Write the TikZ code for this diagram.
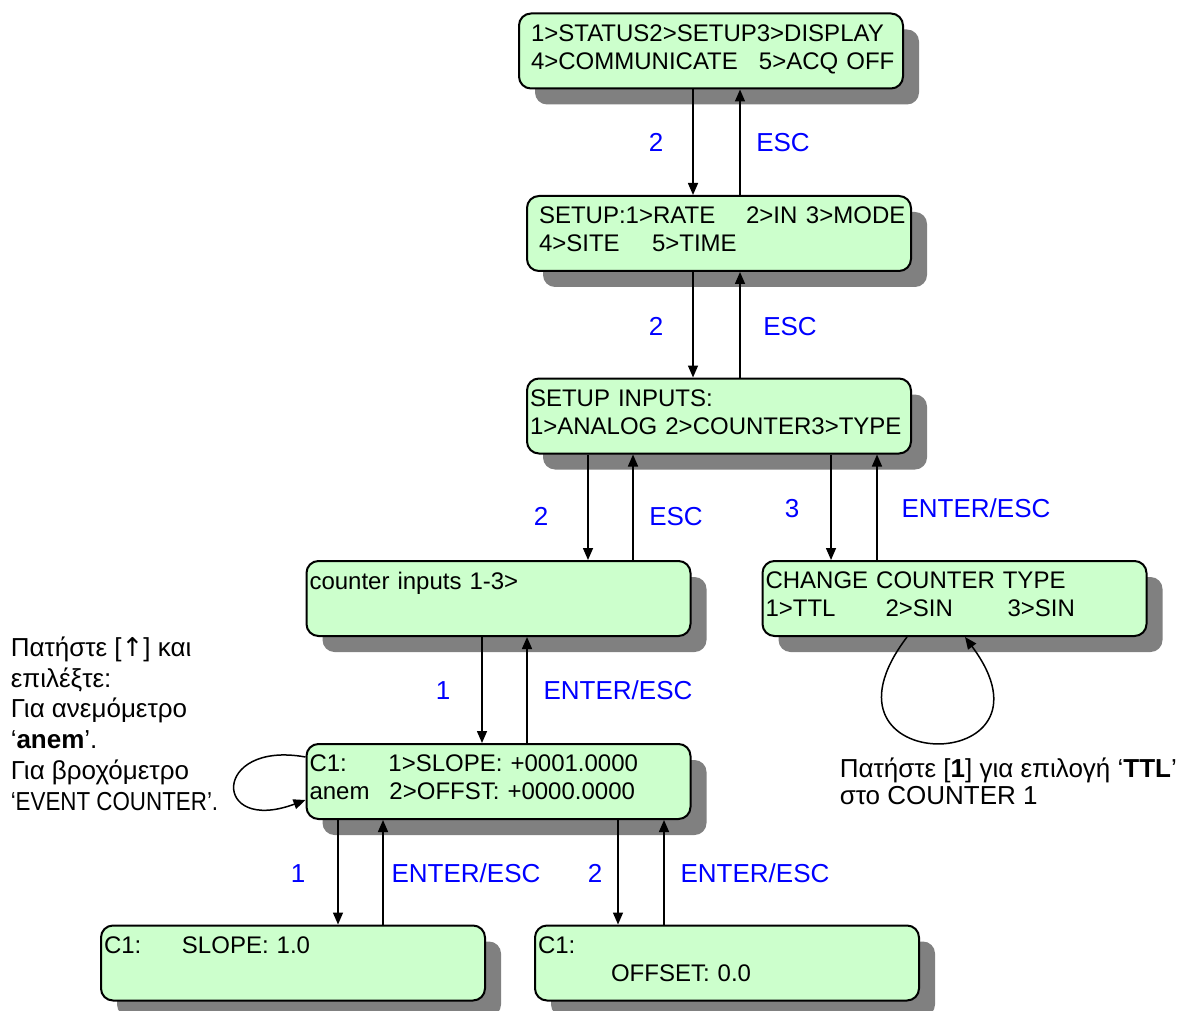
\documentclass[tikz,border=0pt]{standalone}
\usepackage{fontspec}
\setmainfont{Liberation Sans}
\newfontfamily\narrowfont[FakeStretch=0.86]{Liberation Sans}
\newfontfamily\arrowfont{DejaVu Sans}
\usepackage{xcolor}
\usetikzlibrary{shapes, shadows, arrows.meta}

\definecolor{lcdgreen}{RGB}{204,255,204}
\definecolor{shadowgray}{RGB}{128,128,128}
\definecolor{keyblue}{RGB}{0,0,255}

\tikzset{
    screen/.style={draw, line width=1pt, rounded corners=6pt, fill=lcdgreen,
        text width=189pt, inner xsep=1.5pt, inner ysep=0pt, minimum height=37.5pt,
        align=left, font=\fontsize{12}{14}\selectfont,
        drop shadow={shadow xshift=8pt, shadow yshift=-8pt, fill=shadowgray, opacity=1}},
    key/.style={text=keyblue, font=\fontsize{13}{15}\selectfont, anchor=base, inner sep=0pt},
    note/.style={align=left, anchor=north west, inner sep=0pt, font=\fontsize{13}{15.4}\selectfont},
    >={Triangle[length=6pt, width=5pt]}
}

\begin{document}
\begin{tikzpicture}[x=0.5pt, y=-0.5pt, line width=0.75pt]
    \useasboundingbox (0,0) rectangle (1186,1010);

    % menu screens
    \node[screen] (main) at (711,51) {\hspace*{4.5pt}1>STATUS2>SETUP3>DISPLAY\\
        \hspace*{4.5pt}\makebox[114pt][l]{4>COMMUNICATE}5>ACQ OFF\strut};
    \node[screen] (setup) at (719,233.5) {\hspace*{4.5pt}\makebox[103.5pt][l]{SETUP:1>RATE}\makebox[30pt][l]{2>IN}3>MODE\\
        \hspace*{4.5pt}\makebox[56.5pt][l]{4>SITE}5>TIME\strut};
    \node[screen] (inputs) at (719,416) {SETUP INPUTS:\\1>ANALOG 2>COUNTER3>TYPE\strut};
    \node[screen] (counter) at (498.5,598.5) {counter inputs 1-3>\\\strut};
    \node[screen] (ctype) at (954.5,598.5) {CHANGE COUNTER TYPE\\
        \makebox[60pt][l]{1>TTL}\makebox[61pt][l]{2>SIN}3>SIN\strut};
    \node[screen] (cone) at (498.5,781.5) {\makebox[39.5pt][l]{C1:}1>SLOPE: +0001.0000\\
        \makebox[40pt][l]{anem}2>OFFST: +0000.0000\strut};
    \node[screen] (slope) at (293,963) {\makebox[39pt][l]{C1:}SLOPE: 1.0\\\strut};
    \node[screen] (offset) at (727,963) {C1:\\\hspace*{36.5pt}OFFSET: 0.0\strut};

    % key presses
    \draw[->] ([xshift=-9pt]main.south) -- ([xshift=-13pt]setup.north);
    \draw[->] ([xshift=10.5pt]setup.north) -- ([xshift=14.5pt]main.south);
    \draw[->] ([xshift=-13pt]setup.south) -- ([xshift=-13pt]inputs.north);
    \draw[->] ([xshift=10.5pt]inputs.north) -- ([xshift=10.5pt]setup.south);
    \draw[->] ([xshift=-65.5pt]inputs.south) -- ([xshift=44.75pt]counter.north);
    \draw[->] ([xshift=67.25pt]counter.north) -- ([xshift=-43pt]inputs.south);
    \draw[->] ([xshift=56pt]inputs.south) -- ([xshift=-61.75pt]ctype.north);
    \draw[->] ([xshift=-38.75pt]ctype.north) -- ([xshift=79pt]inputs.south);
    \draw[->] ([xshift=-8.25pt]counter.south) -- ([xshift=-8.25pt]cone.north);
    \draw[->] ([xshift=14.25pt]cone.north) -- ([xshift=14.25pt]counter.south);
    \draw[->] ([xshift=-80.25pt]cone.south) -- ([xshift=22.5pt]slope.north);
    \draw[->] ([xshift=45pt]slope.north) -- ([xshift=-57.75pt]cone.south);
    \draw[->] ([xshift=59.75pt]cone.south) -- ([xshift=-54.5pt]offset.north);
    \draw[->] ([xshift=-31.5pt]offset.north) -- ([xshift=82.75pt]cone.south);

    % loops
    \draw[->] ([yshift=12.25pt]cone.west) .. controls +(-94,-17) and +(-94,35) .. ([yshift=-9.25pt]cone.west);
    \draw[->] ([xshift=-23.75pt]ctype.south) .. controls +(-107,141) and +(105,141) .. ([xshift=5.25pt]ctype.south);

    \node[key] (k1) at (656,152) {2};
    \node[key] (e1) at (783,152) {ESC};
    \node[key] (k2) at (656,335) {2};
    \node[key] (e2) at (790,335) {ESC};
    \node[key] (k3) at (541,525) {2};
    \node[key] (e3) at (676,525) {ESC};
    \node[key] (k4) at (792,517) {3};
    \node[key] (e4) at (976,517) {ENTER/ESC};
    \node[key] (k5) at (443,699) {1};
    \node[key] (e5) at (618,699) {ENTER/ESC};
    \node[key] (k6) at (298,882) {1};
    \node[key] (e6) at (466,882) {ENTER/ESC};
    \node[key] (k7) at (595,882) {2};
    \node[key] (e7) at (755,882) {ENTER/ESC};

    % notes
    \node[note] (hintcone) at (10,636) {Πατήστε [{\arrowfont ↑}] και\\επιλέξτε:\\Για ανεμόμετρο\\‘\textbf{anem}’.\\Για βροχόμετρο\\{\narrowfont ‘EVENT COUNTER’.}};
    \node[note, font=\fontsize{13}{13.6}\selectfont] (hinttype) at (839,757) {Πατήστε [\textbf{1}] για επιλογή ‘\textbf{TTL}’\\στο COUNTER 1};
\end{tikzpicture}
\end{document}
